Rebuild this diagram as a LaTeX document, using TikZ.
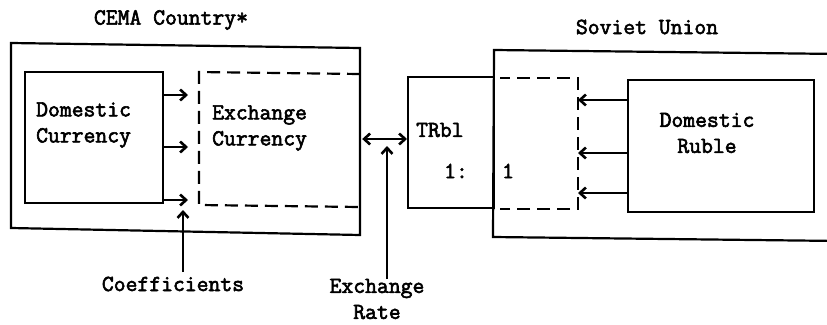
\documentclass[tikz,border=0pt]{standalone}
\usepackage{fontspec}
\setmonofont{Latin Modern Mono}[FakeBold=2.6]
\usetikzlibrary{arrows.meta}
\begin{document}
\begin{tikzpicture}[x=1pt,y=-1pt,
  box/.style={draw,line width=2.2pt,inner sep=0pt,anchor=north west},
  sline/.style={line width=2.2pt},
  dbox/.style={line width=2.2pt,dash pattern=on 13pt off 7pt},
  arr/.style={line width=2.2pt,-{Straight Barb[length=6pt,width=11pt,line width=2.6pt]}},
  darr/.style={line width=2.2pt,{Straight Barb[length=6pt,width=11pt,line width=2.6pt]}-{Straight Barb[length=6pt,width=11pt,line width=2.6pt]}},
  lbl/.style={font=\ttfamily\fontsize{23}{26}\selectfont,inner sep=0pt,align=center}]
\useasboundingbox (0,0) rectangle (827,324);
% titles
\node[lbl] (cematitle) at (171,20) {CEMA Country*};
\node[lbl] (sutitle) at (647,27) {Soviet Union};
% CEMA side
\node[box,minimum width=349pt,minimum height=187pt,draw=none] (cema) at (11,45) {};
\draw[sline] (11,43) -- (360,48) -- (360,235) -- (11,228) -- cycle;
\node[box,minimum width=138pt,minimum height=131pt] (dc) at (24,71) {};
\node[lbl,align=left,anchor=west] (dctext) at (36,125) {Domestic\\Currency};
\draw[dbox] (360,74) -- (199,72) -- (199,205) -- (360,207);
\node[lbl,align=left,anchor=west] (ectext) at (212,128) {Exchange\\Currency};
\coordinate (a1) at (188,95);
\coordinate (a2) at (188,147);
\coordinate (a3) at (188,200);
\draw[arr] (dc.east |- a1) -- (a1);
\draw[arr] (dc.east |- a2) -- (a2);
\draw[arr] (dc.east |- a3) -- (a3);
% Soviet side
\node[box,minimum width=86pt,minimum height=131pt] (trbl) at (407,76) {};
\draw[sline] (840,54) -- (494,50) -- (493,237) -- (840,241);
\node[box,minimum width=186pt,minimum height=132pt] (dr) at (627,79) {};
\node[lbl] (drtext) at (707,133) {Domestic\\Ruble};
\draw[dbox,dash phase=3pt] (500,78) -- (578,78) -- (578,209) -- (500,209);
\node[lbl,anchor=west] (trbltext) at (416,130) {TRbl};
\node[lbl] (ratio1) at (456,171) {1:};
\node[lbl] (ratio2) at (508,171) {1};
\coordinate (b1) at (578,100);
\coordinate (b2) at (578,153);
\coordinate (b3) at (578,193);
\draw[arr] (dr.west |- b1) -- (b1);
\draw[arr] (dr.west |- b2) -- (b2);
\draw[arr] (dr.west |- b3) -- (b3);
% exchange rate
\draw[darr] (cema.east |- 0,139) -- (trbl.west |- 0,139);
\node[lbl] (coef) at (173,284) {Coefficients};
\draw[arr] (183,272) coordinate (c0) -- (183,210);
\node[lbl] (exrate) at (377,299) {Exchange\\Rate};
\draw[arr] (387,279) coordinate (e0) -- (387,146);
\end{tikzpicture}
\end{document}
